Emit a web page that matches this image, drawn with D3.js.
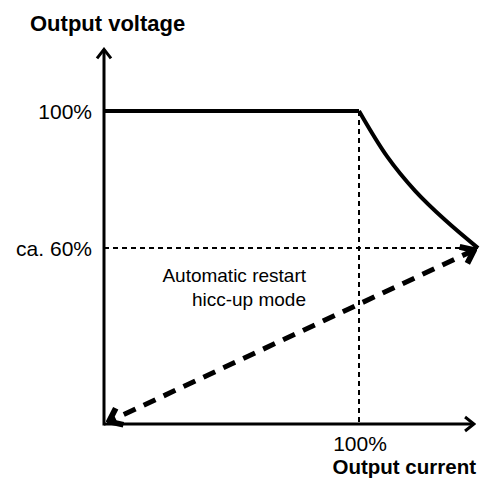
<!DOCTYPE html>
<meta charset="utf-8">
<style>
body { margin: 0; background: #fff; }
svg { display: block; font-family: Arial, "Liberation Sans", sans-serif; }
</style>
<svg id="chart" width="483" height="479"></svg>
<script src="https://d3js.org/d3.v7.min.js"></script>
<script>
// values in percent of nominal
var currentPct = [100, 111, 122, 134, 146.7];   // foldback curve, x
var voltagePct = [100, 85.5, 74.5, 65, 56.2];   // foldback curve, y
var limitCurrent = 100;      // 100% current
var nominalVoltage = 100;    // 100% voltage
var restartVoltage = 56.2;   // "ca. 60%"
var axisMax = [145.5, 120];  // arrow tips (x, y)
var yTickLabels = ["100%", "ca. 60%"];
var xTickLabels = ["100%"];

var svg = d3.select("#chart");

var x = d3.scaleLinear().domain([0, 100]).range([104, 359]);
var y = d3.scaleLinear().domain([0, 100]).range([424, 111]);

var defs = svg.append("defs");
function chevron(id, size, sw) {
  defs.append("marker")
    .attr("id", id)
    .attr("viewBox", "-12 -10 14 20")
    .attr("markerUnits", "userSpaceOnUse")
    .attr("markerWidth", size * 1.4).attr("markerHeight", size * 2)
    .attr("refX", 0).attr("refY", 0)
    .attr("orient", "auto-start-reverse")
    .append("path")
    .attr("d", "M-9,-7L0,0L-9,7")
    .attr("fill", "none").attr("stroke", "#000")
    .attr("stroke-width", sw).attr("stroke-linejoin", "miter");
}
chevron("ax", 10, 3);
chevron("dg", 13, 4.5);

// axes
svg.append("line")
  .attr("x1", x(0)).attr("y1", y(0)).attr("x2", x(axisMax[0]) - 1).attr("y2", y(0))
  .attr("stroke", "#000").attr("stroke-width", 3).attr("marker-end", "url(#ax)");
svg.append("line")
  .attr("x1", x(0)).attr("y1", y(0) + 1.5).attr("x2", x(0)).attr("y2", y(axisMax[1]) + 1)
  .attr("stroke", "#000").attr("stroke-width", 3).attr("marker-end", "url(#ax)");

// thin guide lines
svg.append("line")
  .attr("x1", x(limitCurrent)).attr("y1", y(nominalVoltage)).attr("x2", x(limitCurrent)).attr("y2", y(0))
  .attr("stroke", "#000").attr("stroke-width", 2).attr("stroke-dasharray", "5,4");
svg.append("line")
  .attr("x1", x(0)).attr("y1", y(restartVoltage)).attr("x2", x(currentPct[currentPct.length - 1])).attr("y2", y(restartVoltage))
  .attr("stroke", "#000").attr("stroke-width", 2).attr("stroke-dasharray", "5,4");

// characteristic
var pts = currentPct.map(function (c, i) { return [c, voltagePct[i]]; });
svg.append("path")
  .attr("d", "M" + x(0) + "," + y(nominalVoltage) + "L" + x(limitCurrent) + "," + y(nominalVoltage))
  .attr("fill", "none").attr("stroke", "#000").attr("stroke-width", 4);
svg.append("path")
  .datum(pts)
  .attr("d", d3.line().x(function (d) { return x(d[0]); }).y(function (d) { return y(d[1]); }).curve(d3.curveCatmullRom.alpha(0.5)))
  .attr("fill", "none").attr("stroke", "#000").attr("stroke-width", 4).attr("stroke-linejoin", "round");

// hiccup restart diagonal
var end = [currentPct[currentPct.length - 1], restartVoltage];
svg.append("line")
  .attr("x1", x(end[0]) - 4).attr("y1", y(end[1]) + 2).attr("x2", x(0) + 5).attr("y2", y(0) - 2.5)
  .attr("stroke", "#000").attr("stroke-width", 5).attr("stroke-dasharray", "13,9")
  .attr("marker-start", "url(#dg)").attr("marker-end", "url(#dg)");

// labels
svg.append("text").attr("x", 30).attr("y", 31)
  .attr("font-size", 22).attr("font-weight", "bold").text("Output voltage");
svg.append("text").attr("x", 476).attr("y", 474).attr("text-anchor", "end")
  .attr("font-size", 20.5).attr("font-weight", "bold").text("Output current");

svg.append("text").attr("x", 92).attr("y", y(nominalVoltage) + 8).attr("text-anchor", "end")
  .attr("font-size", 21).text(yTickLabels[0]);
svg.append("text").attr("x", 92).attr("y", y(restartVoltage) + 8).attr("text-anchor", "end")
  .attr("font-size", 21).text(yTickLabels[1]);
svg.append("text").attr("x", x(limitCurrent) + 1).attr("y", 451).attr("text-anchor", "middle")
  .attr("font-size", 21).text(xTickLabels[0]);

svg.append("text").attr("x", 306).attr("y", 282).attr("text-anchor", "end")
  .attr("font-size", 19).text("Automatic restart");
svg.append("text").attr("x", 306).attr("y", 306).attr("text-anchor", "end")
  .attr("font-size", 19).text("hicc-up mode");
</script>
